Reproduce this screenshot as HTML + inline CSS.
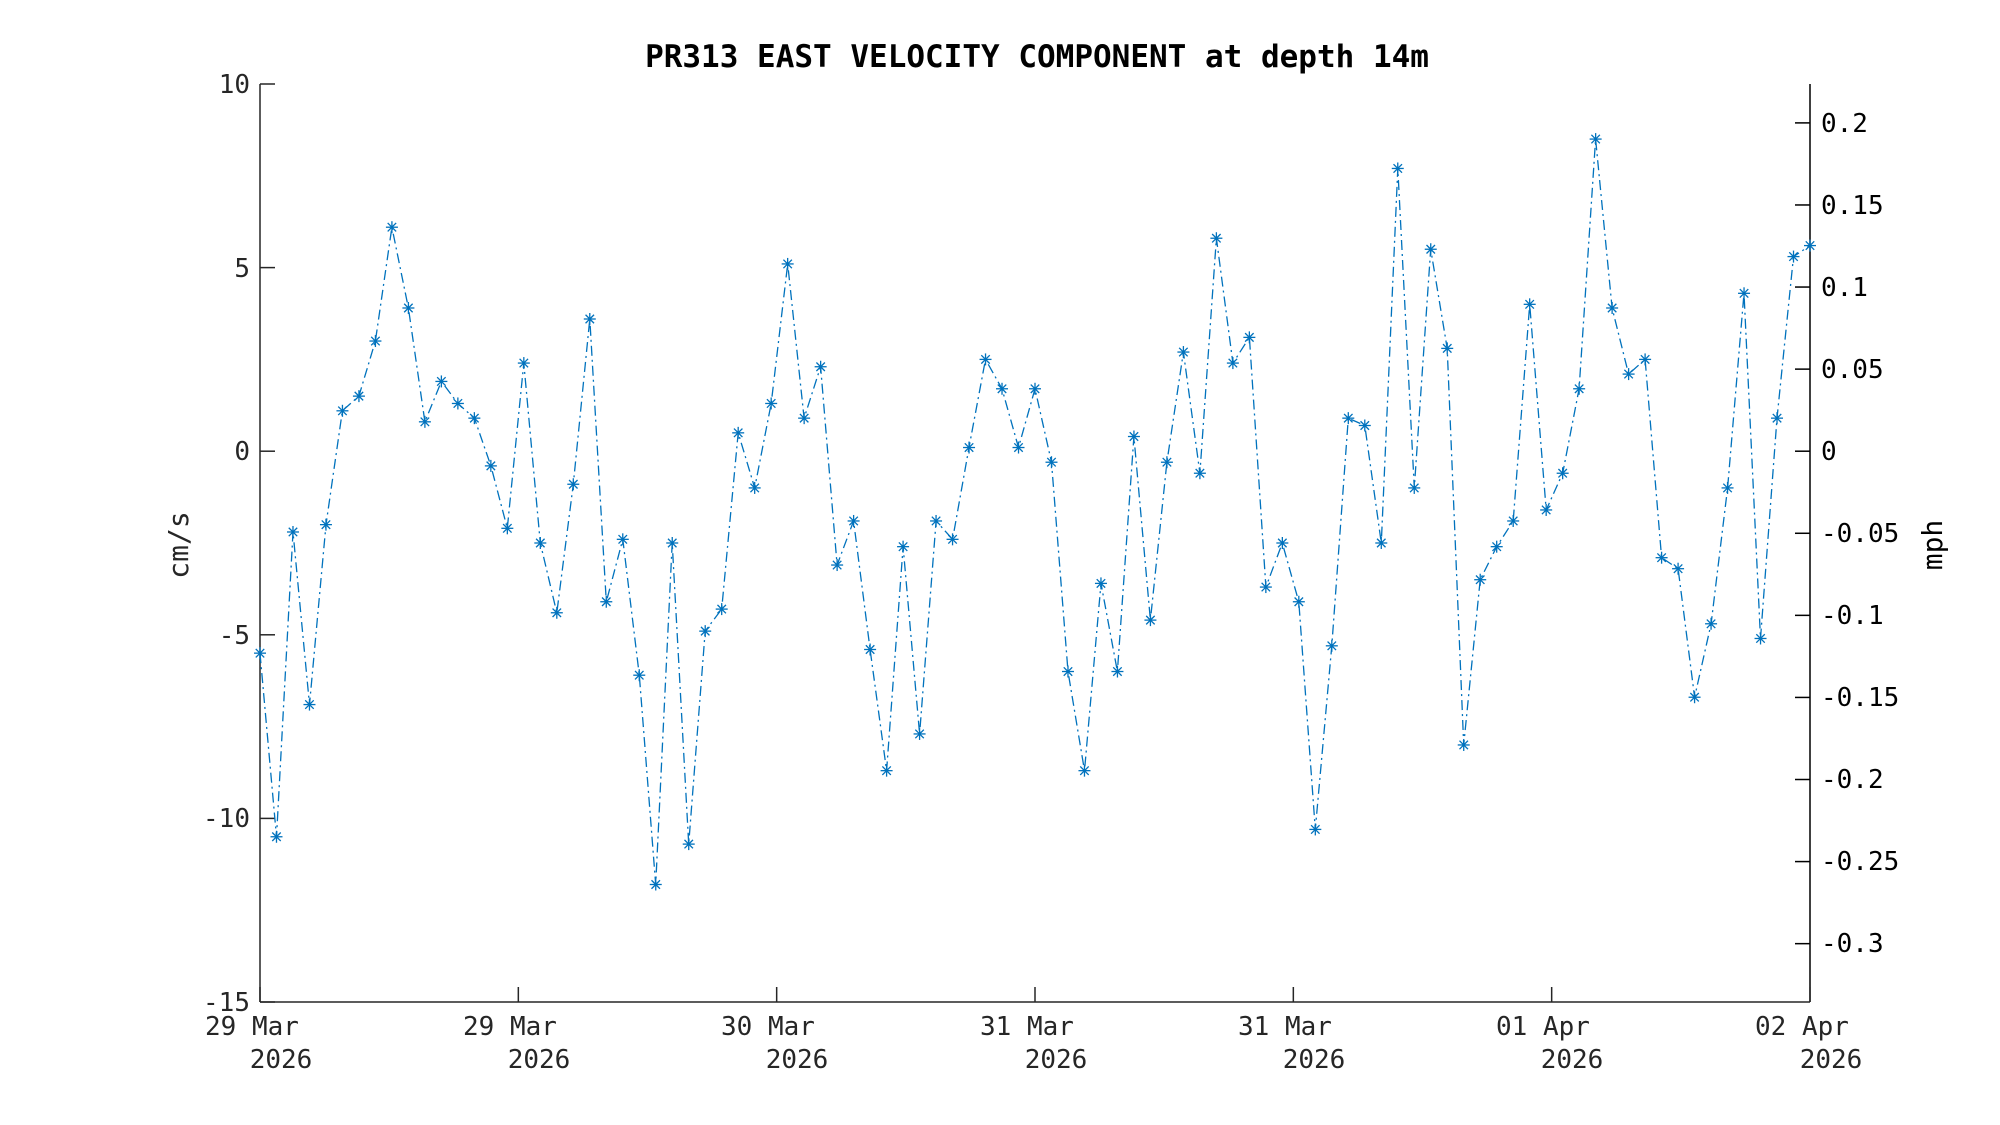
<!DOCTYPE html>
<html><head><meta charset="utf-8"><style>
html,body{margin:0;padding:0;background:#fff;}
svg{display:block;}
text{font-family:"DejaVu Sans Mono","Liberation Mono",monospace;}
</style></head><body>
<svg id="s" width="2000" height="1125" viewBox="0 0 2000 1125" xmlns="http://www.w3.org/2000/svg">
<rect width="2000" height="1125" fill="#fff"/>
<text x="1037" y="67" font-size="31" font-weight="bold" text-anchor="middle" fill="#000">PR313 EAST VELOCITY COMPONENT at depth 14m</text>
<g stroke="#262626" stroke-width="1.5" fill="none">
<line x1="260" y1="84" x2="260" y2="1002"/>
<line x1="260" y1="1002" x2="1810" y2="1002"/>
</g>
<line x1="1810" y1="84" x2="1810" y2="1002" stroke="#000" stroke-width="1.5"/>
<g id="ticks" stroke-width="1.5"></g>
<g font-size="26" fill="#262626" text-anchor="end">
<text x="250" y="93">10</text>
<text x="250" y="277">5</text>
<text x="250" y="460">0</text>
<text x="250" y="644">-5</text>
<text x="250" y="827">-10</text>
<text x="250" y="1011">-15</text>
</g>
<g font-size="26" fill="#000">
<text x="1821" y="132">0.2</text>
<text x="1821" y="214">0.15</text>
<text x="1821" y="296">0.1</text>
<text x="1821" y="378">0.05</text>
<text x="1821" y="460">0</text>
<text x="1821" y="542">-0.05</text>
<text x="1821" y="624">-0.1</text>
<text x="1821" y="706">-0.15</text>
<text x="1821" y="788">-0.2</text>
<text x="1821" y="870">-0.25</text>
<text x="1821" y="952">-0.3</text>
</g>
<g font-size="26" fill="#262626" text-anchor="middle">
<text x="252" y="1035">29 Mar</text><text x="281" y="1068">2026</text>
<text x="510" y="1035">29 Mar</text><text x="539" y="1068">2026</text>
<text x="768" y="1035">30 Mar</text><text x="797" y="1068">2026</text>
<text x="1027" y="1035">31 Mar</text><text x="1056" y="1068">2026</text>
<text x="1285" y="1035">31 Mar</text><text x="1314" y="1068">2026</text>
<text x="1543" y="1035">01 Apr</text><text x="1572" y="1068">2026</text>
<text x="1802" y="1035">02 Apr</text><text x="1831" y="1068">2026</text>
</g>
<text transform="translate(188,545) rotate(-90)" font-size="28" fill="#262626" text-anchor="middle">cm/s</text>
<text transform="translate(1942,545) rotate(-90)" font-size="28" fill="#000" text-anchor="middle">mph</text>
<g id="data"></g>
</svg>
<script>
var v=[-5.5,-10.5,-2.2,-6.9,-2.0,1.1,1.5,3.0,6.1,3.9,0.8,1.9,1.3,0.9,-0.4,-2.1,2.4,-2.5,-4.4,-0.9,3.6,-4.1,-2.4,-6.1,-11.8,-2.5,-10.7,-4.9,-4.3,0.5,-1.0,1.3,5.1,0.9,2.3,-3.1,-1.9,-5.4,-8.7,-2.6,-7.7,-1.9,-2.4,0.1,2.5,1.7,0.1,1.7,-0.3,-6.0,-8.7,-3.6,-6.0,0.4,-4.6,-0.3,2.7,-0.6,5.8,2.4,3.1,-3.7,-2.5,-4.1,-10.3,-5.3,0.9,0.7,-2.5,7.7,-1.0,5.5,2.8,-8.0,-3.5,-2.6,-1.9,4.0,-1.6,-0.6,1.7,8.5,3.9,2.1,2.5,-2.9,-3.2,-6.7,-4.7,-1.0,4.3,-5.1,0.9,5.3,5.6];
var NS="http://www.w3.org/2000/svg",L=260,R=1810,T=84,B=1002,sc=(B-T)/25;
function Y(c){return T+(10-c)*sc;}
var n=v.length,pts=[],g=document.getElementById('data'),tk=document.getElementById('ticks');
function ln(p,x1,y1,x2,y2,c,w){var e=document.createElementNS(NS,'line');e.setAttribute('x1',x1);e.setAttribute('y1',y1);e.setAttribute('x2',x2);e.setAttribute('y2',y2);e.setAttribute('stroke',c);e.setAttribute('stroke-width',w||1.5);p.appendChild(e);}
for(var k=0;k<6;k++){var y=Y(10-5*k);ln(tk,260,y,275,y,'#262626');}
for(var k=0;k<7;k++){var x=L+k*(R-L)/6;ln(tk,x,1002,x,987,'#262626');}
for(var m=-0.3;m<=0.2001;m+=0.05){var y=Y(m*44.704);ln(tk,1795,y,1810,y,'#000');}
for(var i=0;i<n;i++){pts.push((L+i*(R-L)/(n-1)).toFixed(1)+','+Y(v[i]).toFixed(1));}
var pl=document.createElementNS(NS,'polyline');pl.setAttribute('points',pts.join(' '));pl.setAttribute('fill','none');pl.setAttribute('stroke','#0072BD');pl.setAttribute('stroke-width','1.3');pl.setAttribute('stroke-dasharray','10 4 2 4');g.appendChild(pl);
for(var i=0;i<n;i++){var x=L+i*(R-L)/(n-1),y=Y(v[i]),r=6,d=r*0.707;
ln(g,x-r,y,x+r,y,'#0072BD',1.3);ln(g,x,y-r,x,y+r,'#0072BD',1.3);ln(g,x-d,y-d,x+d,y+d,'#0072BD',1.3);ln(g,x-d,y+d,x+d,y-d,'#0072BD',1.3);}
</script>
</body></html>
